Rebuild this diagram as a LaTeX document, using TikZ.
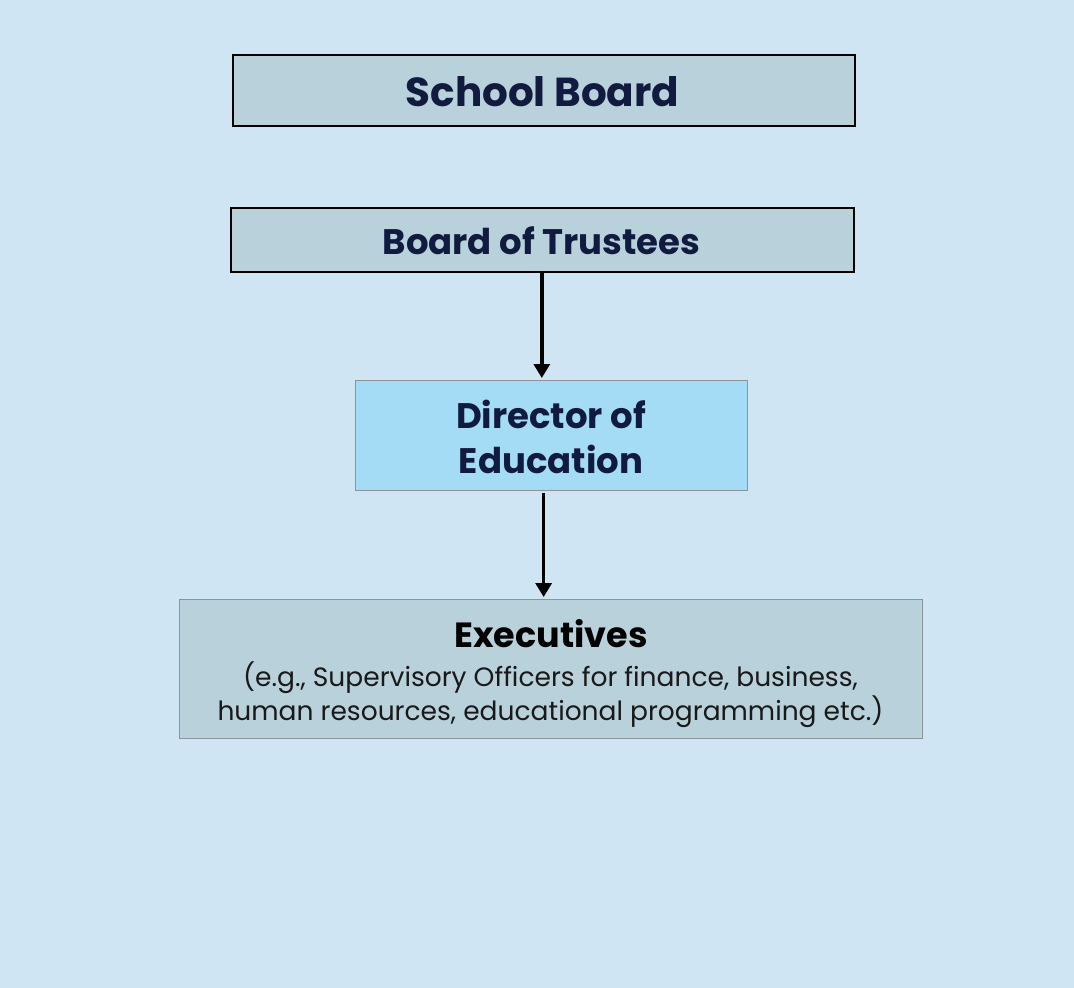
\documentclass[tikz,border=0pt]{standalone}
\usepackage{fontspec}
\setmainfont{Poppins}
\usetikzlibrary{arrows.meta,calc}
\definecolor{pagebg}{HTML}{D0E5F3}
\definecolor{boxfill}{HTML}{B8D1DB}
\definecolor{dirfill}{HTML}{A5DCF5}
\definecolor{navy}{HTML}{111B40}
\definecolor{edgegray}{HTML}{8C9499}
\begin{document}
\begin{tikzpicture}[x=1pt,y=-1pt,
  orgbox/.style={draw=black,line width=1.6pt,fill=boxfill,inner sep=0pt,anchor=north west},
  softbox/.style={draw=edgegray,line width=1.3pt,inner sep=0pt,anchor=north west},
  title/.style={text=navy,align=center},
  link/.style={line width=3.4pt,-{Triangle[width=16pt,length=14pt]}}]
  % page
  \fill[pagebg] (0,0) rectangle (1074,988);
  \useasboundingbox (0,0) rectangle (1074,988);
  % boxes
  \node[orgbox,minimum width=622pt,minimum height=71pt] (board) at (232,54) {};
  \node[orgbox,minimum width=623pt,minimum height=64pt] (trustees) at (230,207) {};
  \node[softbox,fill=dirfill,minimum width=392pt,minimum height=110pt] (director) at (355,380) {};
  \node[softbox,fill=boxfill,minimum width=743pt,minimum height=139pt] (exec) at (179,599) {};
  % texts
  \node[title,font=\fontsize{40.5}{46}\selectfont\bfseries] (boardtxt) at (542.5,92) {School Board};
  \node[title,font=\fontsize{35.5}{40}\selectfont\bfseries] (trusteestxt) at (541.5,241) {Board of Trustees};
  \node[title,font=\fontsize{35.5}{45}\selectfont\bfseries] (directortxt) at (551,437) {Director of\\Education};
  \node[font=\fontsize{35}{40}\selectfont\bfseries,text=black] (exectxt) at (551,634) {Executives};
  \node[font=\fontsize{26.5}{34}\selectfont,text=black!90,align=center] (execsub) at (550.5,695)
    {(e.g., Supervisory Officers for finance, business,\\human resources, educational programming etc.)};
  % connectors
  \coordinate (trustout) at ($(trustees.south)+(-0.5,0)$);
  \coordinate (dirin) at ($(director.north)+(-10,-2)$);
  \coordinate (dirout) at ($(director.south)+(-8,2)$);
  \coordinate (execin) at ($(exec.north)+(-7.5,-2)$);
  \draw[link] (trustout) -- (trustout |- dirin);
  \draw[link] (dirout) -- (dirout |- execin);
\end{tikzpicture}
\end{document}
